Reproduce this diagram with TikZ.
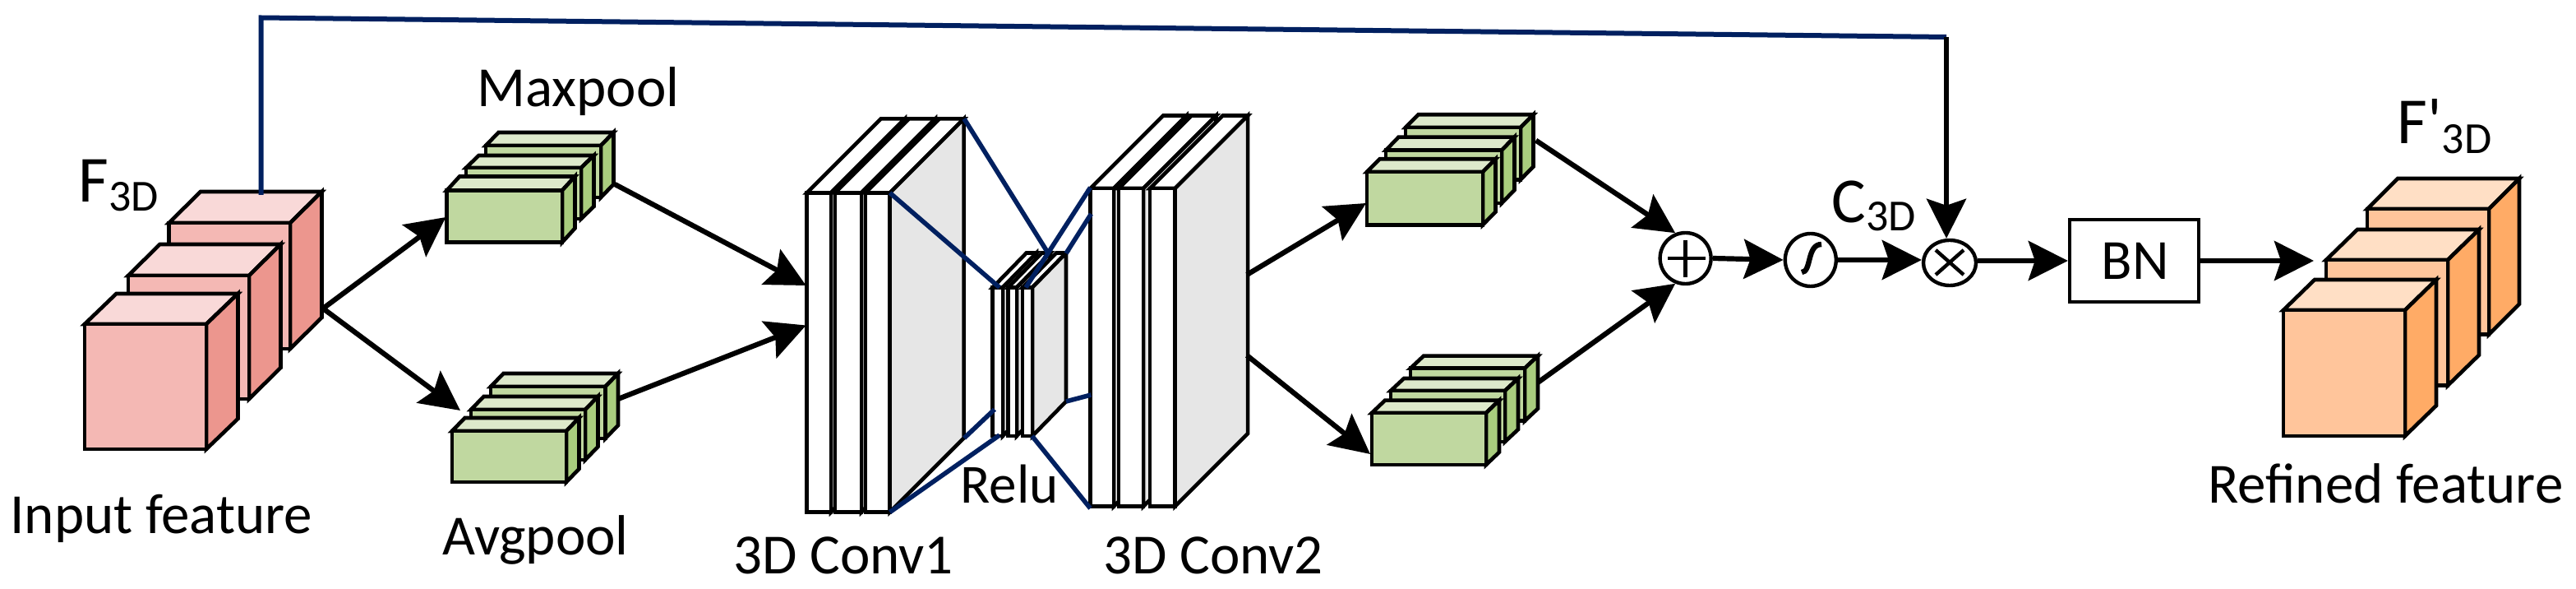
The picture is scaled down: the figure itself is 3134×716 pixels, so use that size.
\documentclass[tikz,border=0pt]{standalone}
\usepackage{fontspec}
\setmainfont{Carlito}
\usetikzlibrary{arrows.meta,shapes.geometric}
\definecolor{navy}{HTML}{002060}
\definecolor{redfront}{HTML}{F4B8B4}\definecolor{redtop}{HTML}{F9D9D8}\definecolor{redside}{HTML}{EC968E}
\definecolor{greenfront}{HTML}{C0D8A0}\definecolor{greentop}{HTML}{DDE9CB}\definecolor{greenside}{HTML}{A9CD7E}
\definecolor{orangefront}{HTML}{FFC59B}\definecolor{orangetop}{HTML}{FFDFC5}\definecolor{orangeside}{HTML}{FFAB66}
\definecolor{slabfront}{HTML}{FFFFFF}\definecolor{slabtop}{HTML}{FFFFFF}\definecolor{slabside}{HTML}{E6E6E6}
% #1 palette, #2 x0, #3 x1, #4 y0, #5 y1, #6 dx, #7 dy
\newcommand{\cuboid}[7]{%
  \draw[facepen,fill=#1top] (#2,#4) -- ++(#6,-#7) -- ++({#3-#2},0) -- (#3,#4) -- cycle;
  \draw[facepen,fill=#1side] (#3,#4) -- ++(#6,-#7) -- ({#3+#6},{#5-#7}) -- (#3,#5) -- cycle;
  \draw[facepen,fill=#1front] (#2,#4) rectangle (#3,#5);
}
\tikzset{
  facepen/.style={draw=black,line width=2.3pt},
  arrow/.style={draw=black,line width=3.1pt,-{Stealth[length=24pt,width=24pt,inset=4pt]}},
  bluelink/.style={draw=navy,line width=2.8pt},
  feedback/.style={draw=navy,line width=3pt},
  lbl/.style={anchor=base west,inner sep=0pt,font=\fontsize{34.5}{38}\selectfont},
  opcircle/.style={ellipse,draw=black,line width=2.2pt,fill=white,inner sep=0pt,minimum width=31pt,minimum height=31pt},
  opmark/.style={draw=black,line width=2.2pt},
}
\newcommand{\bigsub}[4]{{\fontsize{#1}{#1}\selectfont #2}\raisebox{-#4pt}{\fontsize{27}{27}\selectfont #3}}
\begin{document}
\begin{tikzpicture}[x=0.5pt,y=-0.5pt]
\useasboundingbox (0,0) rectangle (3134,716);
% red cubes
\cuboid{red}{205.5}{353}{271}{424}{38.5}{38}
\cuboid{red}{156}{303}{335}{485}{38.5}{38}
\cuboid{red}{103}{251}{394}{546}{38.5}{37}
% green: maxpool
\cuboid{green}{591}{731}{177}{240}{15.5}{16}
\cuboid{green}{567}{707}{204}{266}{15.5}{15}
\cuboid{green}{543.6}{684}{231.5}{294.5}{15.5}{17}
% green: avgpool
\cuboid{green}{597}{736.5}{470}{533}{15.5}{16}
\cuboid{green}{573}{712}{498}{559}{15.5}{16}
\cuboid{green}{550}{689}{524}{586}{15.5}{16}
% conv1
\cuboid{slab}{981.6}{1011}{234.4}{622.6}{90}{90}
\cuboid{slab}{1016}{1048}{234.4}{622.6}{90}{90}
\cuboid{slab}{1053}{1082.6}{234.4}{622.6}{90}{90}
% relu
\cuboid{slab}{1207.7}{1220}{349.5}{530}{41}{42}
\cuboid{slab}{1226.5}{1237}{349.5}{530}{41}{42}
\cuboid{slab}{1244}{1256}{349.5}{530}{41}{42}
% conv2
\cuboid{slab}{1326.5}{1355}{229}{615.5}{88.5}{88.5}
\cuboid{slab}{1361}{1391}{229}{615.5}{88.5}{88.5}
\cuboid{slab}{1399}{1429.6}{229}{615.5}{88.5}{88.5}
% green right upper
\cuboid{green}{1710}{1850}{155}{218.3}{15.5}{15.7}
\cuboid{green}{1686}{1827}{182.7}{247}{15.5}{16}
\cuboid{green}{1663}{1804}{209}{273.3}{15.5}{15.7}
% green right lower
\cuboid{green}{1716}{1855}{447.7}{511.7}{16}{15}
\cuboid{green}{1692}{1831}{475}{537}{16}{15}
\cuboid{green}{1669}{1808}{502}{565}{16}{15.3}
% orange
\cuboid{orange}{2880}{3028}{254}{406.5}{37}{37}
\cuboid{orange}{2830}{2978}{316}{468.6}{38}{37}
\cuboid{orange}{2778}{2926}{377}{530}{38}{37}
% named ends
\coordinate (redtopc) at (317.5,237);
\coordinate (bendA) at (317.5,21.5);
\coordinate (bendB) at (2368,45);
\coordinate (redout) at (393,375);
\coordinate (maxin) at (542.5,264);
\coordinate (avgin) at (560,499);
\coordinate (maxout) at (748,224);
\coordinate (avgout) at (752,485);
\coordinate (convinA) at (980.6,347);
\coordinate (convinB) at (980.6,395.5);
\coordinate (convoutA) at (1517,334);
\coordinate (convoutB) at (1517,432);
\coordinate (gupin) at (1662,247);
\coordinate (glowin) at (1667,552);
\coordinate (gupout) at (1868.6,170.7);
\coordinate (glowout) at (1871,465);
\coordinate (orangein) at (2815,317);
% blue links between the convolution stacks
\coordinate (ca) at (1173,144.4);
\coordinate (cb) at (1082.6,234.4);
\coordinate (cc) at (1082.6,622.6);
\coordinate (cd) at (1173,532.6);
\coordinate (ra) at (1275,307.5);
\coordinate (rb) at (1216,349.5);
\coordinate (rc) at (1216,529);
\coordinate (rd) at (1210,497.6);
\coordinate (re) at (1248,349.5);
\coordinate (rf) at (1297,308);
\coordinate (rg) at (1297,488);
\coordinate (rh) at (1255.6,530);
\coordinate (da) at (1326.5,228);
\coordinate (db) at (1327.5,260);
\coordinate (dc) at (1327.5,480);
\coordinate (dd) at (1326.5,618);
\draw[bluelink] (ca) -- (ra);
\draw[bluelink] (cb) -- (rb);
\draw[bluelink] (cc) -- (rc);
\draw[bluelink] (cd) -- (rd);
\draw[bluelink] (da) -- (re);
\draw[bluelink] (db) -- (rf);
\draw[bluelink] (dc) -- (rg);
\draw[bluelink] (dd) -- (rh);
% operators
\node[opcircle] (plus) at (2050.6,314) {};
\node[opcircle,minimum width=31pt,minimum height=32pt] (sig) at (2202.8,316) {};
\node[opcircle,minimum width=32pt,minimum height=27.5pt] (times) at (2372,319.5) {};
\draw[opmark] (2029,314) -- (2075,314);
\draw[opmark] (2050.6,291.7) -- (2050.6,336.7);
\draw[draw=black,line width=3.2pt] (2192,331) .. controls (2204,331) and (2198,297) .. (2216,297);
\draw[opmark] (2355,304) -- (2389,334);
\draw[opmark] (2389,304) -- (2355,334);
\node[draw=black,line width=2.2pt,fill=white,minimum width=78.5pt,minimum height=50pt,inner sep=0pt] (bn) at (2596.5,317) {};
% arrows
\draw[arrow] (redout) -- (maxin);
\draw[arrow] (redout) -- (avgin);
\draw[arrow] (maxout) -- (convinA);
\draw[arrow] (avgout) -- (convinB);
\draw[arrow] (convoutA) -- (gupin);
\draw[arrow] (convoutB) -- (glowin);
\draw[arrow] (gupout) -- (plus.112);
\draw[arrow] (glowout) -- (plus.248);
\draw[arrow] (plus.east) -- (sig.west);
\draw[arrow] (sig.east) -- (sig.east -| times.west);
\draw[arrow] (times.east |- bn.west) -- (bn.west);
\draw[arrow] (bn.east) -- (orangein);
\draw[feedback] (redtopc) -- (bendA) -- (bendB);
\draw[arrow] (bendB) -- (bendB |- times.north);
% labels
\node[lbl] (lInput) at (12,648) {Input feature};
\node[lbl] (lMax) at (580,130) {Maxpool};
\node[lbl] (lAvg) at (538,675) {Avgpool};
\node[lbl] (lC1) at (892,697) {3D Conv1};
\node[lbl] (lC2) at (1342,697) {3D Conv2};
\node[lbl] (lRelu) at (1168,611) {\fontsize{33.5}{36}\selectfont Relu};
\node[lbl] (lRef) at (2686,611) {Refined feature};
\node[lbl,anchor=center] (lBN) at (2598,317) {BN};
\node[lbl] (lF) at (95,245.6) {\bigsub{40}{F}{3D}{5.5}};
\node[lbl] (lC) at (2228,271) {\bigsub{39}{C}{3D}{5}};
\node[lbl] (lFp) at (2916,174.7) {\bigsub{40}{F\textquotesingle}{3D}{6}};
\end{tikzpicture}
\end{document}
